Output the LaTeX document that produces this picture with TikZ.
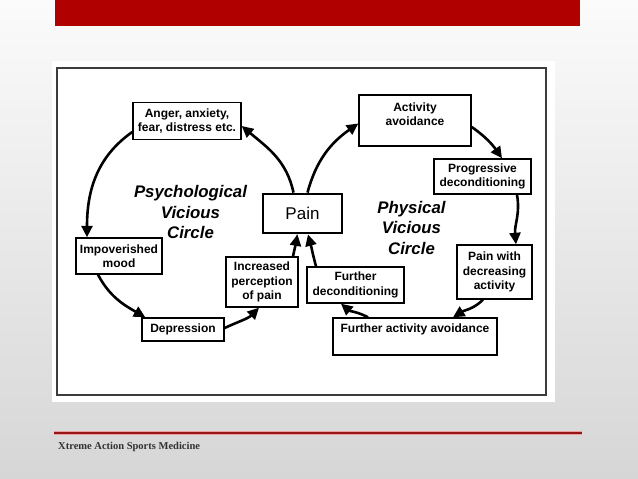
\documentclass[tikz,border=0pt]{standalone}
\usepackage{fontspec}
\setmainfont{Liberation Sans}
\newfontfamily\footfont{Liberation Serif}
\usetikzlibrary{arrows.meta}
\definecolor{barred}{RGB}{176,0,0}
\definecolor{linered}{RGB}{150,22,22}
\definecolor{bgtop}{RGB}{251,251,251}
\definecolor{bgbot}{RGB}{214,214,214}
\definecolor{framegray}{RGB}{60,60,60}
\definecolor{foottext}{RGB}{50,50,50}
\begin{document}
\begin{tikzpicture}[x=1pt,y=1pt,
  box/.style={draw=black, line width=1.4pt, fill=white, rectangle, inner sep=0pt, align=center,
              font=\bfseries\fontsize{12}{14.4}\selectfont},
  lbl/.style={inner sep=0pt, align=center, font=\bfseries\fontsize{12}{14.4}\selectfont},
  circlbl/.style={inner sep=0pt, align=center, font=\bfseries\itshape\fontsize{16.8}{20.3}\selectfont},
  arr/.style={line width=2.6pt, -{Triangle[length=11.5pt,width=11pt]}}]
\useasboundingbox (0,0) rectangle (638,479);
\shade[top color=bgtop, bottom color=bgbot] (0,0) rectangle (638,479);
\fill[barred] (55,453) rectangle (580,479);
\fill[white] (52,77) rectangle (555,418);
\draw[framegray, line width=1.2pt] (57,84) rectangle (546,411);
\draw[red!60, line width=3.2pt, opacity=0.5] (54,46) -- (582,46);
\draw[linered, line width=1.6pt] (54,46) -- (582,46);
\node[anchor=west, inner sep=0pt, text=foottext, font=\footfont\bfseries\fontsize{10.5}{12}\selectfont] (foot) at (58,32) {Xtreme Action Sports Medicine};

% nodes
\node[box, minimum width=108pt, minimum height=37pt] (anger) at (187,358) {Anger, anxiety,\\fear, distress etc.};
\node[box, line width=2.8pt, minimum width=79pt, minimum height=39pt, font=\fontsize{17}{19}\selectfont] (pain) at (302.5,265.5) {Pain};
\node[box, minimum width=112pt, minimum height=51pt] (act) at (415,358.5) {};
\node[lbl] (acttext) at (415,365) {Activity\\avoidance};
\node[box, minimum width=97pt, minimum height=35pt] (prog) at (482.5,302.5) {Progressive\\deconditioning};
\node[box, minimum width=75pt, minimum height=54pt] (painw) at (494.5,207) {Pain with\\decreasing\\activity};
\node[box, minimum width=164pt, minimum height=37pt] (fav) at (415,142.5) {};
\node[lbl] (favtext) at (415,150) {Further activity avoidance};
\node[box, minimum width=97pt, minimum height=36pt] (fdec) at (355.5,194) {Further\\deconditioning};
\node[box, minimum width=72pt, minimum height=50pt] (inc) at (262,197) {Increased\\perception\\of pain};
\node[box, minimum width=82pt, minimum height=23pt] (dep) at (183,149.5) {Depression};
\node[box, minimum width=86pt, minimum height=36pt] (mood) at (119,223) {Impoverished\\mood};

\node[circlbl] (psych) at (190.5,267) {Psychological\\Vicious\\Circle};
\node[circlbl] (phys) at (411.5,251) {Physical\\Vicious\\Circle};

% connectors
\draw[arr] ([xshift=-9pt]pain.north) to[out=102,in=-40] ([yshift=-5pt]anger.east);
\draw[arr] ([yshift=-11pt]anger.west) to[out=215,in=90] ([xshift=-32pt]mood.north);
\draw[arr] ([xshift=-21pt]mood.south) to[out=-62,in=150] ([xshift=4pt]dep.north west);
\draw[arr] ([yshift=1.5pt]dep.east) to[out=25,in=-135] ([xshift=-3pt]inc.south);
\draw[arr] ([xshift=31pt]inc.north) to[out=78,in=-100] ([xshift=-5pt]pain.south);
\draw[arr] ([xshift=5pt]pain.north) to[out=75,in=-145] ([yshift=-3pt]act.west);
\draw[arr] ([yshift=-6.5pt]act.east) to[out=-35,in=125] ([xshift=19.5pt]prog.north);
\draw[arr] ([xshift=34.5pt]prog.south) to[out=-80,in=95] ([xshift=21.5pt]painw.north);
\draw[arr] ([xshift=-11.5pt]painw.south) to[out=-135,in=32] ([xshift=38pt]fav.north);
\draw[arr] ([xshift=-47pt]fav.north) to[out=152,in=-40] ([xshift=-14.5pt]fdec.south);
\draw[arr] ([xshift=-39.5pt]fdec.north) to[out=105,in=-75] ([xshift=5.5pt]pain.south);
\end{tikzpicture}
\end{document}
